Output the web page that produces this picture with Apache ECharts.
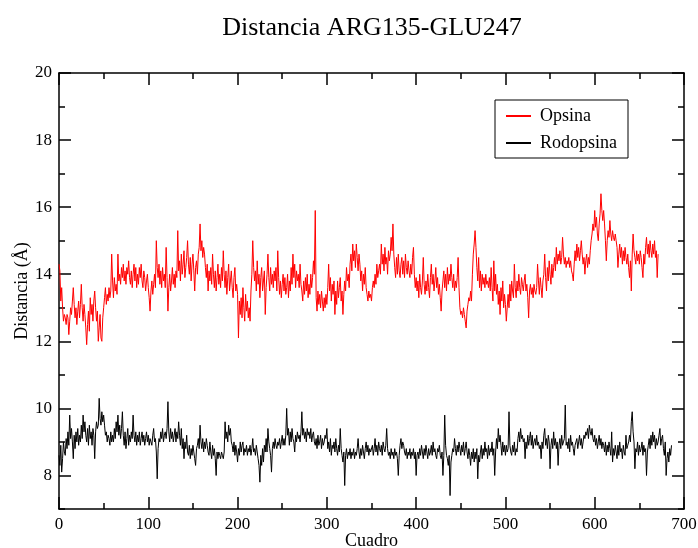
<!DOCTYPE html>
<html>
<head>
<meta charset="utf-8">
<script src="https://cdn.jsdelivr.net/npm/echarts@6/dist/echarts.min.js"></script>
<style>
html,body{margin:0;padding:0;background:#fff;}
#chart{width:698px;height:548px;}
</style>
</head>
<body>
<div id="chart"></div>
<script>
// ---- data (one value per frame, starting at frame 0) ----
var titleText = 'Distancia ARG135-GLU247';
var xName = 'Cuadro';
var yName = 'Distancia (Å)';
var seriesNames = ['Opsina', 'Rodopsina'];
var xTicks = [0, 100, 200, 300, 400, 500, 600, 700];
var yTicks = [8, 10, 12, 14, 16, 18, 20];

var opsina = [
14.3,14.1,13.2,13.6,13.0,12.6,12.8,12.7,12.5,12.8,12.7,12.2,12.6,13.0,12.8,13.2,13.6,13.1,12.7,13.0,
12.5,12.9,13.2,12.7,13.1,13.7,13.0,12.6,13.1,12.8,12.4,11.9,12.5,12.9,12.3,13.3,12.8,13.1,12.6,13.2,
13.5,13.0,12.6,12.9,12.0,12.4,12.8,12.1,12.0,12.7,13.0,13.3,13.6,13.1,13.4,13.2,13.6,13.3,13.5,14.6,
13.8,13.3,13.9,13.5,13.7,13.4,14.6,13.8,14.0,13.7,14.2,13.9,14.3,13.8,14.1,13.7,14.2,14.0,14.4,13.9,
13.7,14.1,13.6,14.0,14.3,13.8,14.2,13.6,14.0,13.7,14.2,13.9,14.3,13.8,13.6,14.1,13.9,13.5,13.8,14.0,
13.6,13.3,12.9,13.5,13.8,13.4,13.7,14.0,13.6,15.0,14.2,13.9,14.3,13.7,14.1,13.6,14.2,13.8,14.0,13.6,
14.8,13.9,12.9,13.6,14.0,13.5,13.8,14.2,13.7,14.0,13.6,14.1,13.9,15.3,14.1,14.4,13.8,14.6,14.0,14.3,
14.7,13.9,14.2,14.5,15.0,14.3,14.0,14.5,13.8,14.3,14.6,14.1,13.5,14.2,14.4,14.0,14.6,14.8,15.5,14.7,
15.0,14.5,14.8,14.6,14.2,13.9,14.3,13.5,14.1,13.8,14.2,13.7,14.6,14.0,13.6,14.1,13.5,13.9,14.3,13.7,
14.0,13.6,14.2,13.8,14.7,14.0,13.6,14.1,13.4,13.9,14.3,13.5,13.8,14.1,13.6,13.3,13.9,14.2,13.5,13.7,
13.4,12.1,13.2,12.8,13.3,12.7,13.6,13.0,12.6,13.4,12.9,13.2,12.7,13.0,12.6,13.5,14.0,15.0,14.2,13.8,
14.1,13.5,14.4,13.7,14.0,13.3,13.9,14.2,13.5,13.8,14.1,12.8,13.6,14.0,14.6,13.9,13.5,14.2,13.7,14.0,
13.6,14.1,13.8,14.2,13.5,14.7,13.9,13.4,13.8,13.3,13.7,14.0,13.5,13.9,13.4,13.6,14.0,13.3,13.8,13.5,
14.2,13.7,14.6,13.9,14.3,13.6,14.1,13.8,14.0,13.6,14.3,13.7,13.5,13.2,13.8,13.4,13.9,13.5,14.0,13.3,
13.7,13.4,14.0,13.6,13.9,14.4,14.0,15.9,13.3,12.9,13.5,13.1,13.4,13.0,13.5,13.2,12.9,13.3,13.0,13.4,
13.1,13.6,14.3,13.5,13.9,13.2,13.7,13.4,13.8,12.8,13.5,13.1,13.8,13.3,13.6,13.9,13.2,13.5,12.8,13.4,
13.8,13.5,14.2,13.8,14.0,13.6,14.3,14.6,14.1,14.9,14.4,14.7,14.2,14.9,14.5,14.1,14.6,14.3,13.8,14.1,
13.5,14.0,13.7,14.2,13.6,13.4,13.2,13.5,13.3,13.4,13.2,13.6,13.8,13.6,14.0,13.7,14.3,13.9,14.1,14.3,
14.0,14.9,14.3,14.6,14.1,14.8,14.3,14.5,14.0,14.7,14.4,14.6,15.1,14.7,15.5,14.6,14.2,13.9,14.5,14.0,
14.6,14.1,13.9,14.3,14.5,14.0,14.4,13.9,14.6,14.2,14.0,14.4,14.1,13.9,14.3,14.0,14.5,14.8,14.0,13.6,
13.9,13.5,13.8,13.3,14.0,13.6,13.4,13.8,14.5,13.7,13.4,13.8,13.5,14.0,13.6,13.3,13.9,14.3,13.7,14.0,
13.5,13.8,14.2,13.6,13.9,13.4,13.7,13.3,12.9,13.5,13.8,14.1,13.6,14.0,13.5,14.2,13.7,14.0,13.8,14.3,
13.9,13.6,14.0,13.5,13.8,13.6,13.9,14.5,13.6,13.0,12.8,12.9,12.7,13.0,12.8,12.6,12.4,12.9,13.1,13.3,
13.2,13.5,13.2,14.0,14.6,14.9,15.3,14.8,14.2,13.8,14.5,13.6,14.1,13.5,14.0,13.7,13.9,13.6,14.0,13.7,
13.8,13.6,13.9,13.5,14.2,13.6,13.2,14.4,13.5,14.0,13.4,13.7,13.1,13.5,12.8,13.6,13.2,13.8,13.0,13.4,
13.1,12.6,13.0,13.4,13.0,13.7,13.2,13.8,13.5,13.3,14.3,13.6,13.3,13.8,13.5,14.0,13.6,13.4,13.9,13.7,
13.5,13.8,14.0,13.5,13.7,13.3,12.7,13.5,13.7,13.4,13.6,13.3,13.7,13.5,13.4,13.6,14.3,13.8,13.4,13.9,
13.6,13.3,13.8,14.0,14.6,13.9,13.5,14.2,13.8,14.4,14.0,13.7,14.3,13.9,14.2,14.5,14.1,14.8,14.3,14.6,
14.4,14.7,14.3,14.5,15.1,14.6,14.3,14.5,14.2,14.4,14.3,14.5,14.2,14.4,14.1,14.0,13.8,14.3,14.7,14.4,
14.9,14.5,14.8,14.4,14.7,15.0,14.6,14.3,14.5,14.0,14.4,14.6,14.2,14.5,14.3,14.7,15.0,15.2,15.5,15.3,
15.9,15.4,15.7,15.2,15.0,15.5,15.8,16.4,15.9,15.6,15.9,15.5,15.0,14.4,15.0,15.3,15.1,15.6,15.2,15.0,
15.3,15.1,15.0,15.2,15.0,14.8,14.2,14.6,14.9,14.5,14.8,14.3,14.7,14.4,14.8,14.5,14.3,14.6,14.2,13.9,
14.4,13.5,14.6,15.2,14.7,14.5,14.3,14.7,14.4,14.6,14.3,14.7,14.5,14.2,13.9,14.6,14.3,14.8,15.1,14.6,
14.9,14.5,15.0,14.7,14.5,14.9,14.6,15.0,14.5,14.7,13.9,14.6
];

var rodopsina = [
8.6,8.3,8.9,8.1,8.5,9.0,8.7,8.6,9.1,8.8,9.3,8.9,9.8,9.1,9.4,9.0,8.5,9.2,8.8,9.3,
9.0,9.4,8.9,9.2,9.0,9.5,9.1,9.8,9.3,9.6,9.2,9.0,9.4,8.9,9.5,9.1,9.3,8.9,9.4,9.2,
8.5,9.3,9.6,9.4,9.5,10.3,9.7,9.5,9.9,9.6,9.8,9.5,9.2,9.3,9.0,9.2,9.1,8.9,9.3,9.0,
9.2,9.0,9.4,9.1,9.6,9.3,9.8,9.2,9.5,9.1,9.4,9.9,9.2,8.9,9.3,8.8,9.1,9.4,8.9,9.2,
9.0,9.3,9.1,9.8,9.2,9.0,9.3,8.9,9.2,9.0,9.3,8.9,9.1,9.3,9.0,9.2,8.9,9.1,9.3,9.0,
9.2,8.9,9.1,9.0,8.9,9.2,9.4,9.0,9.1,8.7,7.9,8.8,9.1,9.0,9.3,9.1,9.4,9.0,9.2,9.3,
9.1,9.4,10.2,9.3,9.0,9.4,9.1,9.3,9.0,9.2,9.4,9.0,9.3,9.1,9.6,9.2,8.9,9.4,8.8,9.1,
8.5,9.0,8.8,9.2,8.7,8.6,8.9,8.5,8.8,8.6,8.9,8.7,8.5,8.3,8.8,8.9,9.1,8.8,9.5,9.0,
8.8,9.1,8.7,9.0,8.8,9.1,8.9,8.7,8.6,9.0,8.7,8.5,8.9,8.6,8.8,8.5,8.0,8.7,8.5,8.7,
8.6,8.5,8.7,8.6,8.5,8.7,9.6,9.1,9.3,9.0,9.5,9.2,9.4,9.0,8.9,8.7,9.0,8.6,8.9,8.7,
8.4,8.8,8.6,9.0,8.7,8.9,9.0,8.6,8.8,8.7,8.9,8.6,8.8,8.7,8.9,8.6,8.8,9.1,8.7,8.8,
8.6,8.9,8.7,8.5,8.3,7.8,8.6,8.3,8.8,8.4,8.9,8.7,9.1,8.7,9.4,9.0,8.8,8.6,8.1,8.8,
9.0,8.8,9.1,8.9,8.8,9.0,8.9,9.1,8.8,9.0,9.2,8.9,9.1,8.9,9.2,10.0,9.2,9.4,8.9,9.3,
9.0,9.4,9.1,9.0,8.7,9.2,9.0,9.3,9.1,9.2,9.0,9.3,9.9,9.2,9.4,9.1,9.3,9.0,9.4,9.2,
9.3,9.1,9.4,9.0,9.2,9.3,9.0,8.9,9.1,8.8,9.2,8.9,9.0,9.2,8.8,9.1,8.9,9.0,9.2,9.1,
9.4,8.8,9.0,8.7,9.1,8.6,8.9,8.8,9.0,8.7,9.1,8.8,8.6,8.9,8.7,9.4,8.8,8.6,8.4,8.7,
7.7,8.6,8.8,8.5,8.7,8.6,8.8,8.5,8.7,8.6,8.8,8.5,8.7,8.6,8.8,9.1,8.7,8.5,8.8,8.6,
8.9,8.7,8.5,8.8,9.0,8.7,8.9,8.6,8.8,8.7,8.7,8.9,8.6,8.8,9.1,8.7,8.9,8.6,9.0,8.8,
8.7,8.9,8.6,9.0,8.8,8.7,8.9,9.4,8.8,8.6,8.7,8.5,8.8,8.6,8.7,8.5,8.8,8.6,8.7,8.5,
8.0,8.6,8.9,9.1,8.8,9.0,8.9,8.7,8.6,8.8,8.5,8.7,8.6,8.8,8.5,8.7,8.6,8.8,8.5,8.7,
8.0,8.6,8.7,8.5,8.8,8.6,8.9,8.7,8.5,8.8,8.6,8.9,8.7,8.5,8.8,8.6,8.7,8.9,8.6,9.0,
8.7,8.8,8.6,8.5,8.8,8.7,8.9,8.6,8.5,8.7,8.0,8.6,9.8,8.9,8.6,8.5,8.3,8.6,7.4,8.4,
8.6,8.8,8.7,9.1,8.8,8.6,8.9,8.7,9.0,8.8,8.6,8.9,8.7,9.0,8.6,8.8,9.0,8.7,8.5,8.8,
8.6,8.3,8.7,8.5,8.8,8.4,8.7,8.5,8.8,7.9,8.6,8.4,8.7,8.9,8.5,8.8,8.6,9.0,8.7,8.8,
8.5,8.9,8.6,8.8,8.7,9.0,8.6,8.8,8.0,8.7,9.1,8.8,9.4,9.0,9.2,8.9,8.6,9.0,8.7,8.9,
8.6,8.9,8.7,8.8,9.9,8.9,8.7,8.6,8.9,8.7,9.0,8.6,8.8,8.7,9.1,9.3,9.0,9.4,9.1,9.2,
9.0,9.1,8.5,9.0,8.8,9.2,8.9,9.1,9.3,8.9,9.2,8.8,9.0,9.1,8.9,9.2,8.9,9.0,8.8,8.9,
8.5,9.0,8.8,9.2,9.4,8.9,9.1,8.8,9.2,9.0,8.2,8.9,9.1,8.8,9.3,8.9,9.1,8.8,9.0,8.3,
8.9,9.1,8.8,9.2,8.9,9.0,9.1,10.1,8.9,9.0,8.8,9.1,8.7,9.2,8.9,9.0,8.8,8.6,8.9,9.0,
9.1,8.8,9.0,9.2,8.9,9.1,8.8,9.0,9.2,9.1,9.3,9.2,9.4,9.1,9.5,9.3,9.2,9.4,9.1,9.0,
9.2,8.9,9.1,8.8,9.0,9.2,8.9,9.1,8.8,9.0,8.9,8.7,9.0,8.6,8.9,8.7,9.0,8.8,8.6,9.3,
8.4,8.8,8.6,8.9,8.7,8.5,8.9,8.6,9.0,8.7,8.8,8.5,8.9,8.7,8.6,9.2,8.8,8.9,9.0,9.2,
9.0,9.6,9.9,9.3,9.0,8.2,8.8,8.7,9.0,8.6,8.9,8.7,8.8,9.0,8.6,8.9,8.7,8.8,8.0,8.7,
8.9,9.1,8.8,9.2,8.9,9.3,9.0,9.2,8.8,9.1,8.9,9.0,9.2,9.4,8.9,9.1,9.2,8.8,8.6,9.0,
8.0,8.5,8.7,8.4,8.8,8.6,8.9
];

function toPairs(arr) { return arr.map(function (v, i) { return [i, v]; }); }

var FONT = '"Liberation Serif", "DejaVu Serif", serif';
var chart = echarts.init(document.getElementById('chart'), null, { renderer: 'canvas' });

var baseX = {
  type: 'value', min: 0, max: 700, interval: 100, offset: 0,
  axisLine: { show: true, onZero: false, lineStyle: { color: '#000', width: 1.5 } },
  axisTick: { show: true, inside: true, length: 12, lineStyle: { color: '#000', width: 1.5 } },
  minorTick: { show: true, splitNumber: 2, length: 6, lineStyle: { color: '#000', width: 1.5 } },
  splitLine: { show: false }
};
var baseYMajor = {
  type: 'value', min: 7, max: 20, offset: 0,
  axisLine: { show: true, onZero: false, lineStyle: { color: '#000', width: 1.5 } },
  axisTick: { show: true, inside: true, length: 12, customValues: yTicks, lineStyle: { color: '#000', width: 1.5 } },
  splitLine: { show: false }
};
var baseYMinor = {
  type: 'value', min: 7, max: 20, interval: 1, offset: 0,
  axisLine: { show: false, onZero: false },
  axisTick: { show: true, inside: true, length: 6, lineStyle: { color: '#000', width: 1.5 } },
  axisLabel: { show: false },
  splitLine: { show: false }
};

var option = {
  backgroundColor: '#fff',
  animation: false,
  title: {
    text: titleText, left: 367, top: 10, textAlign: 'center',
    textStyle: { fontFamily: FONT, fontSize: 26, fontWeight: 'normal', color: '#000' }
  },
  legend: {
    data: seriesNames, orient: 'vertical', left: 495, top: 100,
    padding: [7, 11, 6, 10], itemGap: 9, itemWidth: 25, itemHeight: 2,
    borderColor: '#000', borderWidth: 1, borderRadius: 0,
    textStyle: { fontFamily: FONT, fontSize: 18, color: '#000', padding: [0, 0, 0, 4] }
  },
  grid: { left: 59, right: 14, top: 73, bottom: 39, containLabel: false, outerBoundsMode: 'none' },
  xAxis: [
    Object.assign({}, baseX, {
      position: 'bottom', name: xName, nameLocation: 'middle', nameGap: 23, nameMoveOverlap: false,
      nameTextStyle: { fontFamily: FONT, fontSize: 18, color: '#000' },
      axisLabel: { show: true, margin: 7, fontFamily: FONT, fontSize: 17, color: '#000', customValues: xTicks }
    }),
    Object.assign({}, baseX, { position: 'top', axisLabel: { show: false } })
  ],
  yAxis: [
    Object.assign({}, baseYMajor, {
      position: 'left', name: yName, nameLocation: 'middle', nameGap: 28, nameRotate: 90, nameMoveOverlap: false,
      nameTextStyle: { fontFamily: FONT, fontSize: 18, color: '#000' },
      axisLabel: { show: true, margin: 7, fontFamily: FONT, fontSize: 17, color: '#000', customValues: yTicks }
    }),
    Object.assign({}, baseYMajor, { position: 'right', axisLabel: { show: false } }),
    Object.assign({}, baseYMinor, { position: 'left' }),
    Object.assign({}, baseYMinor, { position: 'right' })
  ],
  series: [
    {
      name: seriesNames[0], type: 'line', data: toPairs(opsina), xAxisIndex: 0, yAxisIndex: 0,
      symbol: 'none', showSymbol: false, lineStyle: { color: '#ff0000', width: 1 }, itemStyle: { color: '#ff0000' }
    },
    {
      name: seriesNames[1], type: 'line', data: toPairs(rodopsina), xAxisIndex: 0, yAxisIndex: 0,
      symbol: 'none', showSymbol: false, lineStyle: { color: '#000', width: 1 }, itemStyle: { color: '#000' }
    }
  ]
};
chart.setOption(option);
</script>
</body>
</html>
